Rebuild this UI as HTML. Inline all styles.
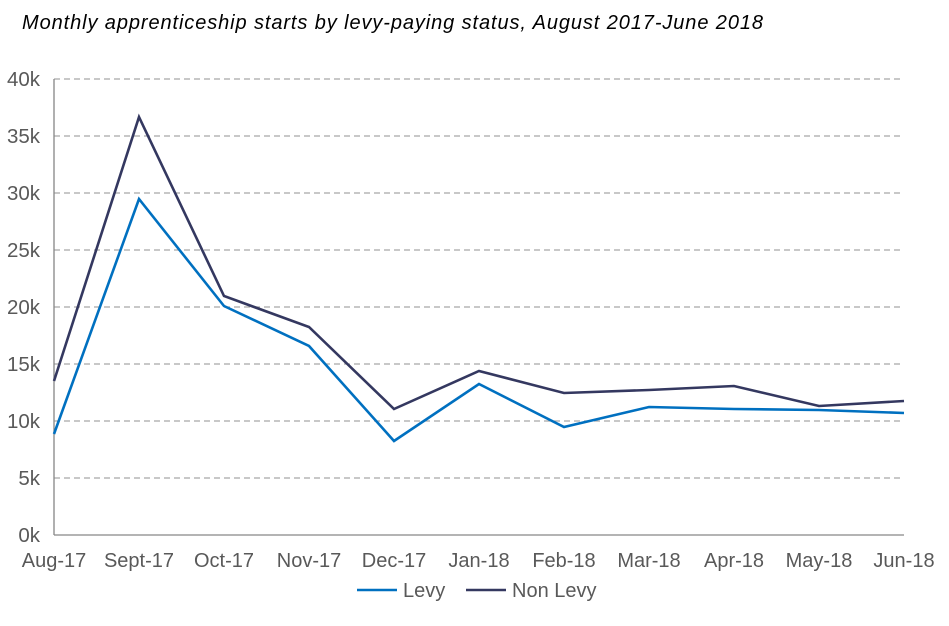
<!DOCTYPE html>
<html><head><meta charset="utf-8"><style>
body{margin:0;background:#fff;}
svg text{font-family:"Liberation Sans",sans-serif;fill:#595959;}
</style></head><body>
<svg width="949" height="621" viewBox="0 0 949 621" xmlns="http://www.w3.org/2000/svg">
<text x="22" y="29" font-size="20" font-style="italic" textLength="741" style="fill:#000">Monthly apprenticeship starts by levy-paying status, August 2017-June 2018</text>
<g stroke="#a6a6a6" stroke-width="1.3" stroke-dasharray="6,4">
<line x1="54" y1="79" x2="904" y2="79"/><line x1="54" y1="136" x2="904" y2="136"/>
<line x1="54" y1="193" x2="904" y2="193"/><line x1="54" y1="250" x2="904" y2="250"/>
<line x1="54" y1="307" x2="904" y2="307"/><line x1="54" y1="364" x2="904" y2="364"/>
<line x1="54" y1="421" x2="904" y2="421"/><line x1="54" y1="478" x2="904" y2="478"/>
</g>
<line x1="54" y1="79" x2="54" y2="535" stroke="#868686" stroke-width="1.3"/>
<line x1="54" y1="535" x2="904" y2="535" stroke="#868686" stroke-width="1.3"/>
<g font-size="20.5" text-anchor="end">
<text x="40" y="86">40k</text><text x="40" y="143">35k</text><text x="40" y="200">30k</text>
<text x="40" y="257">25k</text><text x="40" y="314">20k</text><text x="40" y="371">15k</text>
<text x="40" y="428">10k</text><text x="40" y="485">5k</text><text x="40" y="542">0k</text>
</g>
<g font-size="20" text-anchor="middle">
<text x="54" y="567">Aug-17</text><text x="139" y="567">Sept-17</text><text x="224" y="567">Oct-17</text>
<text x="309" y="567">Nov-17</text><text x="394" y="567">Dec-17</text><text x="479" y="567">Jan-18</text>
<text x="564" y="567">Feb-18</text><text x="649" y="567">Mar-18</text><text x="734" y="567">Apr-18</text>
<text x="819" y="567">May-18</text><text x="904" y="567">Jun-18</text>
</g>
<polyline fill="none" stroke="#0070c0" stroke-width="2.6" points="54,434 139,199 224,306 309,346 394,441 479,384 564,427 649,407 734,409 819,410 904,413"/>
<polyline fill="none" stroke="#343860" stroke-width="2.6" points="54,381 139,117 224,296 309,327 394,409 479,371 564,393 649,390 734,386 819,406 904,401"/>
<line x1="357" y1="590" x2="397" y2="590" stroke="#0070c0" stroke-width="2.6"/>
<text x="403" y="597" font-size="20">Levy</text>
<line x1="466" y1="590" x2="506" y2="590" stroke="#343860" stroke-width="2.6"/>
<text x="512" y="597" font-size="20">Non Levy</text>
</svg>
</body></html>
